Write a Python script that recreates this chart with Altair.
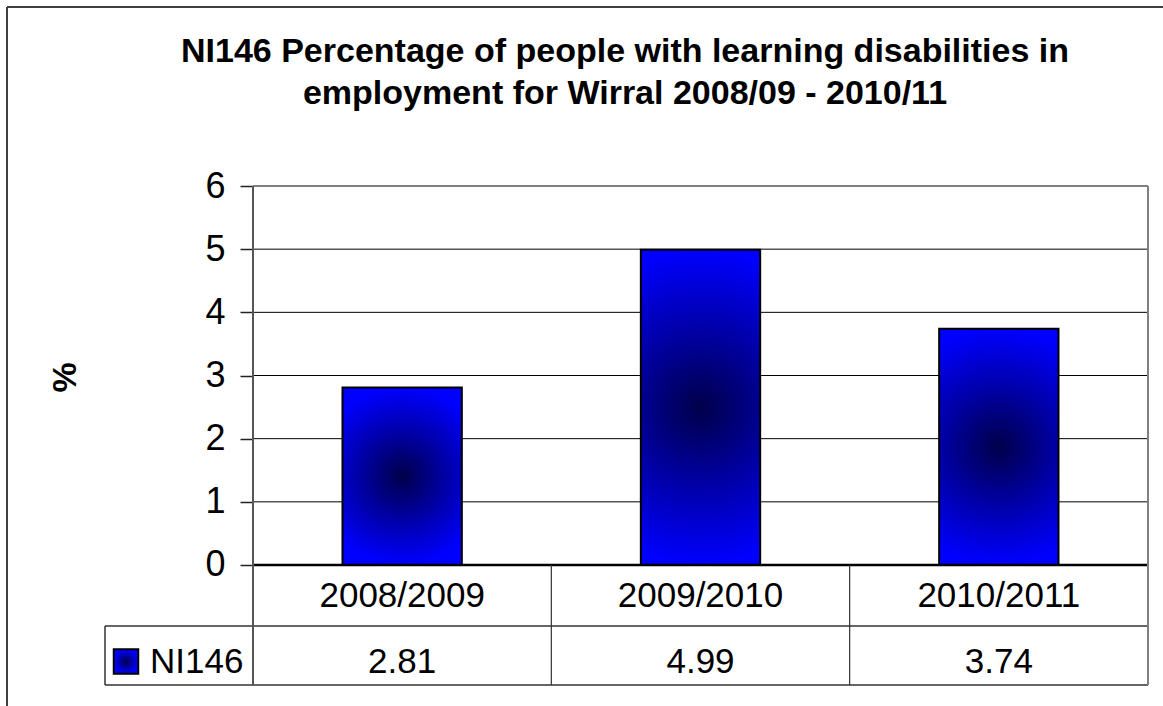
import altair as alt
import pandas as pd

# ---------------- data ----------------
categories = ["2008/2009", "2009/2010", "2010/2011"]
values = [2.81, 4.99, 3.74]
series_name = "NI146"
y_ticks = [0, 1, 2, 3, 4, 5, 6]
title_lines = [
    "NI146 Percentage of people with learning disabilities in",
    "employment for Wirral 2008/09 - 2010/11",
]
y_title = "%"

# ---------------- layout (data units of the shared scales) ----------------
W, H = 1156, 699
X_DOM = [-0.8246, 3.0503]      # 0..3 = plot area, negatives = legend column / margin
Y_DOM = [-2.2322, 8.8338]      # 0..6 = plot area, negatives = data table rows
ROW1 = -0.9657                 # bottom of category row
ROW2 = -1.8997                 # bottom of value row
LEG_LEFT = -0.4961             # left edge of legend cell
ROW1_TEXT = -0.491
ROW2_TEXT = -1.528
KEY_X = -0.4257
NAME_X = -0.345
FONT = "Liberation Sans"

n = len(categories)
xs = alt.Scale(domain=X_DOM, nice=False, zero=False)
ys = alt.Scale(domain=Y_DOM, nice=False, zero=False)

bars_df = pd.DataFrame({"cat": categories, "value": values, "i": list(range(n))})
bars_df["x0"] = bars_df["i"] + 0.3
bars_df["x1"] = bars_df["i"] + 0.7
bars_df["xc"] = bars_df["i"] + 0.5
bars_df["base"] = 0.0
bars_df["r1"] = ROW1_TEXT
bars_df["r2"] = ROW2_TEXT

grad = {
    "gradient": "radial",
    "x1": 0.5, "y1": 0.5, "r1": 0,
    "x2": 0.5, "y2": 0.5, "r2": 0.5,
    "stops": [
        {"offset": 0, "color": "#00004a"},
        {"offset": 0.5, "color": "#0000a8"},
        {"offset": 1, "color": "#0000ff"},
    ],
}

# gridlines (1..5 black) with the y axis carried on this layer
grid_df = pd.DataFrame({"t": y_ticks[1:-1]})
grid_df["a"] = 0.0
grid_df["b"] = float(n)
grid = alt.Chart(grid_df).mark_rule(color="#000000", strokeWidth=1).encode(
    x=alt.X("a:Q", scale=xs, axis=None),
    x2="b:Q",
    y=alt.Y(
        "t:Q",
        scale=ys,
        axis=alt.Axis(
            values=y_ticks,
            offset=-246,
            domain=False,
            grid=False,
            ticks=True,
            tickSize=13,
            tickColor="#222222",
            tickWidth=1.5,
            labelFont=FONT,
            labelFontSize=36,
            labelColor="#000000",
            labelPadding=15,
            title=y_title,
            titleFont=FONT,
            titleFontSize=34,
            titleFontWeight="bold",
            titleColor="#000000",
            titleAngle=270,
            titleX=-188,
            titleY=370,
            titleAlign="center",
            titleBaseline="middle",
        ),
    ),
)

top_df = pd.DataFrame({"t": [y_ticks[-1]], "a": [0.0], "b": [float(n)]})
top_line = alt.Chart(top_df).mark_rule(color="#808080", strokeWidth=2).encode(
    x=alt.X("a:Q", scale=xs, axis=None), x2="b:Q",
    y=alt.Y("t:Q", scale=ys, axis=None),
)

# bars
bars = alt.Chart(bars_df).mark_bar(fill=grad, stroke="#000000", strokeWidth=2).encode(
    x=alt.X("x0:Q", scale=xs, axis=None), x2="x1:Q",
    y=alt.Y("value:Q", scale=ys, axis=None), y2="base:Q",
)

# data-table lines: horizontal segments
h_df = pd.DataFrame({
    "y": [ROW1, ROW2],
    "a": [LEG_LEFT, LEG_LEFT],
    "b": [float(n), float(n)],
})
h_lines = alt.Chart(h_df).mark_rule(color="#333333", strokeWidth=1.5).encode(
    x=alt.X("a:Q", scale=xs, axis=None), x2="b:Q",
    y=alt.Y("y:Q", scale=ys, axis=None),
)
# vertical separators inside the table
v_df = pd.DataFrame({"x": [float(k) for k in range(1, n)]})
v_df["y0"] = 0.0
v_df["y1"] = ROW2
v_lines = alt.Chart(v_df).mark_rule(color="#333333", strokeWidth=1.2).encode(
    x=alt.X("x:Q", scale=xs, axis=None),
    y=alt.Y("y0:Q", scale=ys, axis=None), y2="y1:Q",
)
# right border of plot + table
r_df = pd.DataFrame({"x": [float(n)], "y0": [float(y_ticks[-1])], "y1": [ROW2]})
r_line = alt.Chart(r_df).mark_rule(color="#808080", strokeWidth=2).encode(
    x=alt.X("x:Q", scale=xs, axis=None),
    y=alt.Y("y0:Q", scale=ys, axis=None), y2="y1:Q",
)
# left axis line (plot + table)
l_df = pd.DataFrame({"x": [0.0], "y0": [float(y_ticks[-1])], "y1": [ROW2]})
l_line = alt.Chart(l_df).mark_rule(color="#555555", strokeWidth=2).encode(
    x=alt.X("x:Q", scale=xs, axis=None),
    y=alt.Y("y0:Q", scale=ys, axis=None), y2="y1:Q",
)
# legend cell left edge
lc_df = pd.DataFrame({"x": [LEG_LEFT], "y0": [ROW1], "y1": [ROW2]})
lc_line = alt.Chart(lc_df).mark_rule(color="#333333", strokeWidth=1.5).encode(
    x=alt.X("x:Q", scale=xs, axis=None),
    y=alt.Y("y0:Q", scale=ys, axis=None), y2="y1:Q",
)
# zero baseline (category axis)
z_df = pd.DataFrame({"t": [0.0], "a": [0.0], "b": [float(n)]})
zero_line = alt.Chart(z_df).mark_rule(color="#000000", strokeWidth=2.5).encode(
    x=alt.X("a:Q", scale=xs, axis=None), x2="b:Q",
    y=alt.Y("t:Q", scale=ys, axis=None),
)

# outer chart frame (left + top)
f_df = pd.DataFrame({"x": [X_DOM[0]], "y0": [Y_DOM[0]], "y1": [Y_DOM[1]]})
frame_left = alt.Chart(f_df).mark_rule(color="#404040", strokeWidth=2).encode(
    x=alt.X("x:Q", scale=xs, axis=None),
    y=alt.Y("y0:Q", scale=ys, axis=None), y2="y1:Q",
)
ft_df = pd.DataFrame({"y": [Y_DOM[1]], "a": [X_DOM[0]], "b": [X_DOM[1]]})
frame_top = alt.Chart(ft_df).mark_rule(color="#404040", strokeWidth=2).encode(
    x=alt.X("a:Q", scale=xs, axis=None), x2="b:Q",
    y=alt.Y("y:Q", scale=ys, axis=None),
)

# table text
cat_text = alt.Chart(bars_df).mark_text(font=FONT, fontSize=35, color="#000000",
                                        align="center", baseline="middle").encode(
    x=alt.X("xc:Q", scale=xs, axis=None),
    y=alt.Y("r1:Q", scale=ys, axis=None),
    text="cat:N",
)
val_text = alt.Chart(bars_df).mark_text(font=FONT, fontSize=35, color="#000000",
                                        align="center", baseline="middle").encode(
    x=alt.X("xc:Q", scale=xs, axis=None),
    y=alt.Y("r2:Q", scale=ys, axis=None),
    text=alt.Text("value:Q", format=".2f"),
)

# legend key + series name
leg_df = pd.DataFrame({"name": [series_name], "kx": [KEY_X], "nx": [NAME_X], "y": [ROW2_TEXT]})
key = alt.Chart(leg_df).mark_square(size=600, fill=grad, stroke="#000000",
                                    strokeWidth=2, opacity=1).encode(
    x=alt.X("kx:Q", scale=xs, axis=None),
    y=alt.Y("y:Q", scale=ys, axis=None),
)
name = alt.Chart(leg_df).mark_text(font=FONT, fontSize=35, color="#000000",
                                   align="left", baseline="middle").encode(
    x=alt.X("nx:Q", scale=xs, axis=None),
    y=alt.Y("y:Q", scale=ys, axis=None),
    text="name:N",
)

chart = alt.layer(
    grid, top_line, bars, zero_line, h_lines, v_lines, r_line, l_line, lc_line,
    frame_left, frame_top, cat_text, val_text, key, name,
).resolve_axis(
    x="independent", y="independent"
).properties(
    width=W,
    height=H,
    autosize=alt.AutoSizeParams(type="none"),
    padding={"left": 7, "top": 7, "right": 0, "bottom": 0},
    title=alt.Title(
        text=title_lines,
        font=FONT,
        fontSize=34,
        fontWeight="bold",
        color="#000000",
        anchor="middle",
        frame="group",
        dx=40,
        baseline="top",
        offset=-105,
        lineHeight=42,
    ),
).configure_view(stroke=None).configure(background="#ffffff")

chart.save("out.html", embed_options={"renderer": "svg", "actions": False})
